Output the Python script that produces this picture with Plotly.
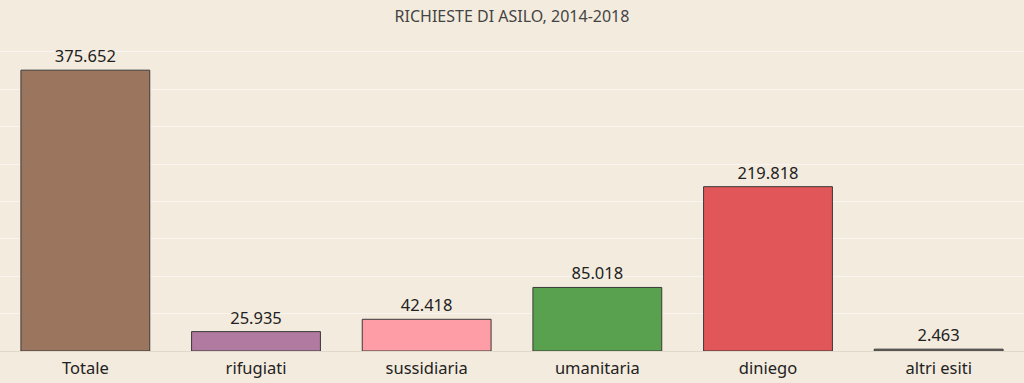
import plotly.graph_objects as go

categories = ["Totale", "rifugiati", "sussidiaria", "umanitaria", "diniego", "altri esiti"]
values = [375652, 25935, 42418, 85018, 219818, 2463]
colors = ["#9C755F", "#B07AA1", "#FF9DA7", "#59A14F", "#E15759", "#79706E"]
title_text = "RICHIESTE DI ASILO, 2014-2018"

labels = [f"{v:,}".replace(",", ".") for v in values]

fig = go.Figure(go.Bar(
    x=categories,
    y=values,
    text=labels,
    textposition="outside",
    cliponaxis=False,
    textfont=dict(family="Noto Sans", size=16.5, color="#222222"),
    marker=dict(color=colors, line=dict(color="#3a3a3a", width=1)),
))

bg = "#F3EBDD"
fig.update_layout(
    width=1024, height=383,
    paper_bgcolor=bg, plot_bgcolor=bg,
    margin=dict(l=0, r=0, t=37, b=32),
    bargap=0.245,
    showlegend=False,
    title=dict(text=title_text, x=0.5, xanchor="center", y=1 - 16 / 383, yanchor="middle",
               font=dict(family="Noto Sans", size=16, color="#444444")),
    xaxis=dict(range=[-0.5, 5.5], showgrid=False, showline=False, zeroline=False,
               ticks="", ticklabelstandoff=5,
               tickfont=dict(family="Noto Sans", size=16.5, color="#222222")),
    yaxis=dict(range=[0, 420000], dtick=50000, showgrid=True, gridcolor="#F9F5EE",
               gridwidth=1, showticklabels=False, zeroline=True, zerolinecolor="#E0D8C8",
               zerolinewidth=1, showline=False),
)

fig.write_html("out.html", config={"displayModeBar": False},
               post_script="document.body.style.margin='0';document.body.style.background='%s';" % bg)
